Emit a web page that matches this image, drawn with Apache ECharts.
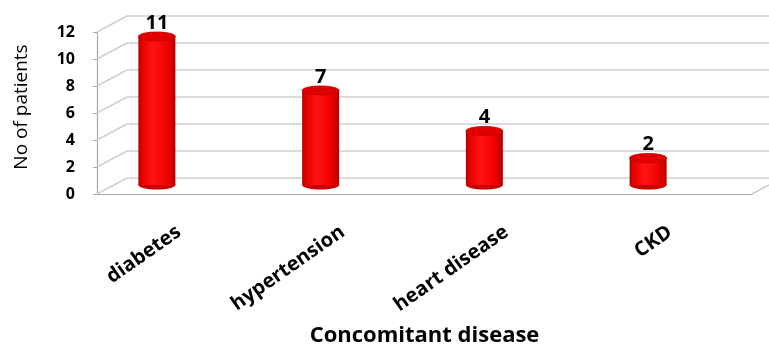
<!DOCTYPE html>
<html>
<head>
<meta charset="utf-8">
<script src="https://cdn.jsdelivr.net/npm/echarts@6/dist/echarts.min.js"></script>
<style>
  html, body { margin: 0; padding: 0; background: #ffffff; }
  #chart { width: 769px; height: 349px; }
</style>
</head>
<body>
<div id="chart"></div>
<script>
// Concomitant disease counts
const categories = ['diabetes', 'hypertension', 'heart disease', 'CKD'];
const patients = [11, 7, 4, 2];
const yTicks = [0, 2, 4, 6, 8, 10, 12];

const FONT = '"Open Sans", "Liberation Sans", Arial, sans-serif';
const DEPTH_X = 30;   // horizontal shift of the back wall
const DEPTH_Y = -16;  // vertical shift of the back wall

const chart = echarts.init(document.getElementById('chart'), null, { renderer: 'canvas' });

// front frame: axes, ticks, labels
const frontGrid = { left: 97, top: 32, width: 655, height: 162, outerBoundsMode: 'none' };
// back wall with its gridlines
const backGrid = { left: 97 + DEPTH_X, top: 32 + DEPTH_Y, width: 655, height: 162, outerBoundsMode: 'none' };
// mid-depth plane where the cylinders stand
const barGrid = { left: 75, top: 23, width: 655, height: 162, outerBoundsMode: 'none' };

const cylFill = new echarts.graphic.LinearGradient(0, 0, 1, 0, [
  { offset: 0, color: '#b00000' },
  { offset: 0.12, color: '#eb0000' },
  { offset: 0.4, color: '#ff1414' },
  { offset: 0.78, color: '#f20000' },
  { offset: 1, color: '#b40000' }
]);

function renderCylinder(params, api) {
  const top = api.coord([api.value(0), api.value(1)]);
  const base = api.coord([api.value(0), 0]);
  const rx = 18.5, ry = 4.5;
  const cx = top[0];
  return {
    type: 'group',
    children: [
      { type: 'ellipse', shape: { cx: cx, cy: base[1], rx: rx, ry: ry },
        style: { fill: '#c80000' } },
      { type: 'rect', shape: { x: cx - rx, y: top[1], width: rx * 2, height: base[1] - top[1] },
        style: { fill: cylFill } },
      { type: 'ellipse', shape: { cx: cx, cy: top[1], rx: rx, ry: ry },
        style: { fill: '#e00000', stroke: '#c00000', lineWidth: 0.8 } },
      { type: 'text',
        style: { text: String(api.value(1)), x: cx, y: top[1] - ry + 1,
                 align: 'center', verticalAlign: 'bottom',
                 font: 'bold 20px ' + FONT, fill: '#000' } }
    ]
  };
}

// diagonal side-wall and floor edges from the front frame to the back wall
function renderWall(params, api) {
  const cs = params.coordSys;
  const y = api.coord([0, api.value(0)])[1];
  const children = [
    { type: 'line', shape: { x1: cs.x, y1: y, x2: cs.x + DEPTH_X, y2: y + DEPTH_Y },
      style: { stroke: '#cfcfcf', lineWidth: 1.5 } }
  ];
  if (api.value(0) === 0) {
    children.push({ type: 'line',
      shape: { x1: cs.x + cs.width, y1: y, x2: cs.x + cs.width + DEPTH_X, y2: y + DEPTH_Y },
      style: { stroke: '#bdbdbd', lineWidth: 1.2 } });
  }
  return { type: 'group', children: children };
}

chart.setOption({
  animation: false,
  backgroundColor: '#ffffff',
  grid: [
    Object.assign({}, frontGrid),
    Object.assign({}, backGrid),
    Object.assign({}, barGrid)
  ],
  xAxis: [
    {
      gridIndex: 0, type: 'category', data: categories,
      axisLine: { lineStyle: { color: '#a6a6a6', width: 1.2 } },
      axisTick: { length: 8, lineStyle: { color: '#a6a6a6' } },
      axisLabel: { rotate: 35, margin: 36, color: '#000',
                   fontWeight: 'bold', fontSize: 20, fontFamily: FONT },
      name: 'Concomitant disease', nameLocation: 'middle', nameGap: 131,
      nameTextStyle: { color: '#000', fontWeight: 'bold', fontSize: 22, fontFamily: FONT }
    },
    { gridIndex: 1, type: 'category', data: categories, show: false },
    { gridIndex: 2, type: 'category', data: categories, show: false }
  ],
  yAxis: [
    {
      gridIndex: 0, type: 'value', min: 0, max: 12, interval: 2,
      axisLine: { show: true, lineStyle: { color: '#a6a6a6', width: 1.2 } },
      axisTick: { show: true, length: 4, lineStyle: { color: '#a6a6a6' } },
      splitLine: { show: false },
      axisLabel: { margin: 22, color: '#000', fontWeight: 'bold', fontSize: 16, fontFamily: FONT },
      name: 'No of patients', nameLocation: 'middle', nameGap: 66, nameRotate: 90,
      nameTextStyle: { color: '#000', fontSize: 19, fontFamily: FONT, padding: [0, 0, 0, 12] }
    },
    {
      gridIndex: 1, type: 'value', min: 0, max: 12, interval: 2,
      axisLine: { show: false }, axisTick: { show: false }, axisLabel: { show: false },
      splitLine: { show: true, lineStyle: { color: '#cfcfcf', width: 1.5 } }
    },
    { gridIndex: 2, type: 'value', min: 0, max: 12, interval: 2, show: false,
      splitLine: { show: false } }
  ],
  series: [
    {
      type: 'custom', xAxisIndex: 0, yAxisIndex: 0,
      renderItem: renderWall, data: yTicks.map(v => [v]), z: 1, silent: true
    },
    {
      type: 'custom', xAxisIndex: 2, yAxisIndex: 2,
      renderItem: renderCylinder,
      data: categories.map((c, i) => [c, patients[i]]),
      encode: { x: 0, y: 1 }, z: 5
    }
  ]
});
</script>
</body>
</html>
